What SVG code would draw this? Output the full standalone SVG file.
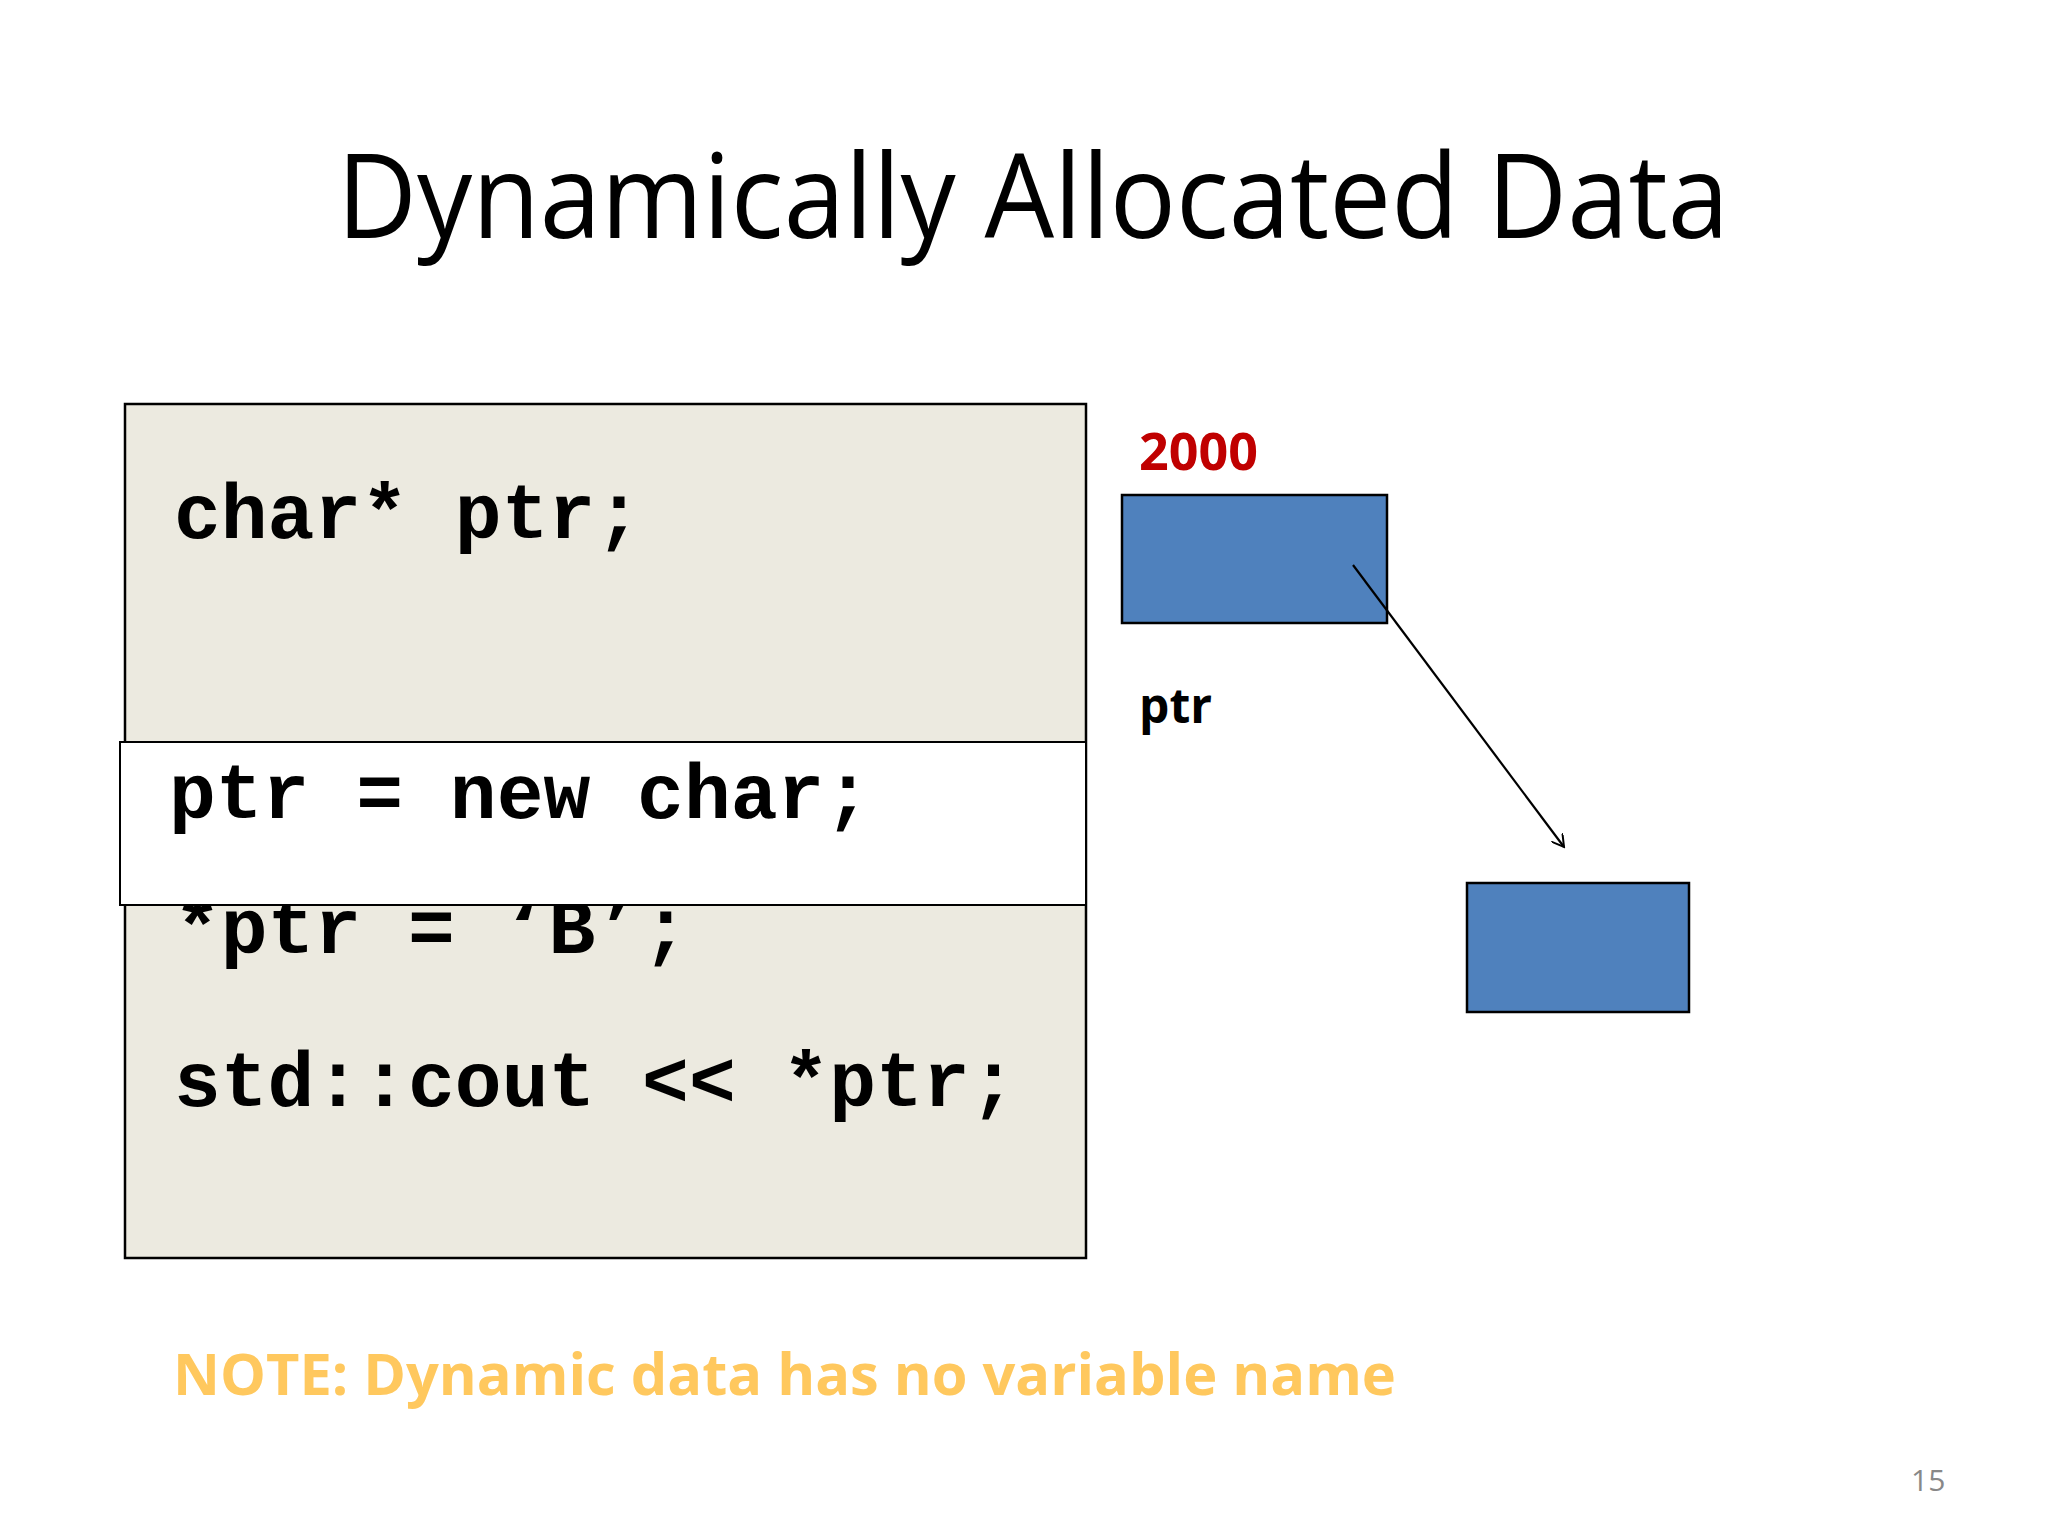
<svg xmlns="http://www.w3.org/2000/svg" width="2048" height="1536" viewBox="0 0 2048 1536">
<style>
.code{font-family:"Liberation Mono","Courier New",monospace;font-weight:bold;font-size:78px;fill:#000}
.lbl{font-family:"Open Sans","Noto Sans",sans-serif;font-weight:bold}
.blue{fill:#4F81BD;stroke:#000;stroke-width:2.5}
</style>
<defs><marker id="ah" markerWidth="14" markerHeight="14" refX="12" refY="7" orient="auto" markerUnits="userSpaceOnUse"><path d="M0,0 L12,7 L0,14" fill="none" stroke="#000" stroke-width="2"/></marker></defs>
<rect width="2048" height="1536" fill="#fff"/>
<text x="1033" y="238" text-anchor="middle" font-family="'Open Sans','Noto Sans',sans-serif" font-size="118" textLength="1392" lengthAdjust="spacingAndGlyphs">Dynamically Allocated Data</text>
<g id="codebox">
<rect x="125" y="404" width="961" height="854" fill="#ECEAE0" stroke="#000" stroke-width="2.5"/>
<text class="code" x="174" y="538">char*  ptr;</text>
<text class="code" x="174" y="953">*ptr = ‘B’;</text>
<text class="code" x="174" y="1106">std::cout &lt;&lt; *ptr;</text>
</g>
<g id="highlight">
<rect x="120" y="742" width="966" height="163" fill="#fff" stroke="#000" stroke-width="2"/>
<text class="code" x="169" y="818">ptr = new char;</text>
</g>
<g id="ptrbox">
<text class="lbl" x="1139" y="470" font-size="52" fill="#C00000">2000</text>
<rect class="blue" x="1122" y="495" width="265" height="128"/>
<text class="lbl" x="1139" y="723" font-size="48" fill="#000">ptr</text>
</g>
<g id="dynbox"><rect class="blue" x="1467" y="883" width="222" height="129"/></g>
<g id="connectors"><line x1="1353" y1="565" x2="1564" y2="847" stroke="#000" stroke-width="2.2" marker-end="url(#ah)"/></g>
<text class="lbl" x="173" y="1395" font-size="58" fill="#FFC85E" textLength="1223" lengthAdjust="spacingAndGlyphs">NOTE:  Dynamic data has no variable name</text>
<text x="1911" y="1491" font-family="'Open Sans',sans-serif" font-size="30" fill="#888">15</text>
</svg>
